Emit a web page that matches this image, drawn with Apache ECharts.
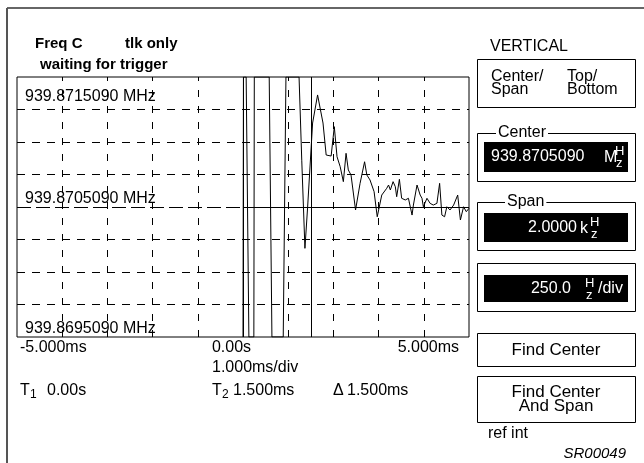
<!DOCTYPE html>
<html>
<head>
<meta charset="utf-8">
<script src="https://cdn.jsdelivr.net/npm/echarts@6/dist/echarts.min.js"></script>
<style>
  html, body { margin: 0; padding: 0; background: #fff; }
  #c { width: 644px; height: 463px; }
</style>
</head>
<body>
<div id="c"></div>
<script>
// Captured trace: time in ms, frequency deviation from the center frequency in Hz
const traceTime = [0.00, 0.01, 0.07, 0.13, 0.24, 0.25, 0.58, 0.64, 0.89, 0.95, 1.24, 1.30, 1.37, 1.43, 1.54, 1.65,
  1.77, 1.84, 1.95, 2.02, 2.08, 2.15, 2.22, 2.28, 2.33, 2.39, 2.43, 2.49, 2.59, 2.69, 2.74, 2.81, 2.90, 2.97,
  3.07, 3.11, 3.18, 3.22, 3.26, 3.32, 3.37, 3.40, 3.46, 3.51, 3.59, 3.66, 3.74, 3.77, 3.85, 3.92, 3.96, 3.99,
  4.07, 4.14, 4.21, 4.29, 4.35, 4.40, 4.46, 4.51, 4.58, 4.66, 4.75, 4.81, 4.88, 4.94, 5.00];
const traceHz = [-1000, 1000, 1000, -1000, -1000, 1000, 1000, -1000, -1000, 1000, 1000, 360, -318, 0, 646, 862,
  646, 400, 392, 618, 387, 310, 195, 413, 285, 246, 259, -23, 182, 348, 246, 208, 118, -75,
  92, 105, 144, 169, 131, 195, 156, 79, 213, 67, 54, 67, -62, 15, 169, 92, 67, 2,
  67, 28, 15, 28, 182, -62, -75, 2, -23, 15, 92, -100, 2, -36, -10];

// Axis scales and tick labels
const timeMin = -5, timeMax = 5, timeDiv = 1;          // 1.000 ms/div
const hzMin = -1000, hzMax = 1000, hzDiv = 250;        // 250.0 Hz/div
const xTickValues = [-5, 0, 5];
const xTickText = ['-5.000ms', '0.00s', '5.000ms'];
const yTickValues = [1000, 0, -1000];
const yTickText = ['939.8715090 MHz', '939.8705090 MHz', '939.8695090 MHz'];
const gridTimes = [-4, -3, -2, -1, 1, 2, 3, 4];
const gridHz = [-750, -500, -250, 250, 500, 750];

// Time cursors (ms)
const cursorT1 = 0;
const cursorT2 = 1.5;

const FONT = '"Liberation Sans", Arial, Helvetica, sans-serif';

const chart = echarts.init(document.getElementById('c'), null, { renderer: 'canvas' });

const tracePoints = traceTime.map((t, i) => [t, traceHz[i]]);
const dashGrid = { color: '#000', width: 1, type: [8, 7] };
const dashVert = { color: '#000', width: 1, type: [7, 9] };

const gridMarks = [];
gridTimes.forEach(t => gridMarks.push({ xAxis: t, lineStyle: dashVert }));
gridHz.forEach(h => gridMarks.push({ yAxis: h, lineStyle: dashGrid }));
// center frequency line: long dashes before the trigger, solid after it
gridMarks.push([{ coord: [timeMin, 0], lineStyle: { color: '#000', width: 1, type: [14, 5] } }, { coord: [cursorT1, 0] }]);
gridMarks.push([{ coord: [cursorT1, 0], lineStyle: { color: '#000', width: 1, type: 'solid' } }, { coord: [timeMax, 0] }]);
// cursors
gridMarks.push({ xAxis: cursorT1, lineStyle: { color: '#000', width: 1, type: 'solid' } });
gridMarks.push({ xAxis: cursorT2, lineStyle: { color: '#000', width: 1, type: 'solid' } });

const xRich = ['l', 'm', 'r'];
function xLabel(v) {
  const i = xTickValues.indexOf(v);
  return i < 0 ? '' : '{' + xRich[i] + '|' + xTickText[i] + '}';
}

function txt(x, y, text, opt) {
  opt = opt || {};
  return {
    type: 'text', x: x, y: y, silent: true, z: 10,
    style: Object.assign({
      text: text,
      fill: '#000',
      font: (opt.weight || 'normal') + ' ' + (opt.size || 16) + 'px ' + FONT,
      align: opt.align || 'left',
      verticalAlign: 'middle'
    }, opt.style || {})
  };
}
function box(x, y, w, h, fill) {
  return {
    type: 'rect', silent: true, z: 5,
    shape: { x: x, y: y, width: w, height: h },
    style: fill ? { fill: fill } : { fill: 'none', stroke: '#000', lineWidth: 1 }
  };
}
function line(x1, y1, x2, y2, color, w) {
  return {
    type: 'line', silent: true, z: 5,
    shape: { x1: x1, y1: y1, x2: x2, y2: y2 },
    style: { stroke: color, lineWidth: w }
  };
}

const graphics = [
  // page frame
  line(7, 8, 644, 8, '#333', 1.5),
  line(7, 8, 7, 463, '#555', 2),
  // status lines
  txt(35, 44, 'Freq C', { weight: 'bold', size: 15 }),
  txt(125, 44, 'tlk only', { weight: 'bold', size: 15 }),
  txt(40, 65, 'waiting for trigger', { weight: 'bold', size: 15 }),
  // horizontal scale and cursor readout
  txt(212, 368, '1.000ms/div'),
  txt(20, 391, 'T'), txt(30, 395, '1', { size: 12 }), txt(47, 391, '0.00s'),
  txt(212, 391, 'T'), txt(222, 395, '2', { size: 12 }), txt(233, 391, '1.500ms'),
  txt(333, 391, '\u0394'), txt(347, 391, '1.500ms'),
  // VERTICAL soft-key panel
  txt(490, 47, 'VERTICAL'),
  box(477.5, 59.5, 158, 48),
  txt(491, 77, 'Center/'), txt(491, 90, 'Span'),
  txt(567, 77, 'Top/'), txt(567, 90, 'Bottom'),

  box(477.5, 133.5, 158, 48),
  txt(496, 133, 'Center', { style: { backgroundColor: '#fff', padding: [0, 2] } }),
  box(484, 142, 144, 30, '#000'),
  txt(491, 157, '939.8705090', { style: { fill: '#fff' } }),
  txt(604, 158, 'M', { style: { fill: '#fff' } }),
  txt(615, 151, 'H', { size: 13, style: { fill: '#fff' } }),
  txt(616, 163, 'z', { size: 13, style: { fill: '#fff' } }),

  box(477.5, 202.5, 158, 48),
  txt(505, 202, 'Span', { style: { backgroundColor: '#fff', padding: [0, 2] } }),
  box(484, 213, 144, 29, '#000'),
  txt(577, 228, '2.0000', { align: 'right', style: { fill: '#fff' } }),
  txt(580, 229, 'k', { style: { fill: '#fff' } }),
  txt(590, 222, 'H', { size: 13, style: { fill: '#fff' } }),
  txt(591, 234, 'z', { size: 13, style: { fill: '#fff' } }),

  box(477.5, 263.5, 158, 48),
  box(484, 275, 144, 27, '#000'),
  txt(571, 289, '250.0', { align: 'right', style: { fill: '#fff' } }),
  txt(585, 283, 'H', { size: 13, style: { fill: '#fff' } }),
  txt(586, 295, 'z', { size: 13, style: { fill: '#fff' } }),
  txt(598, 289, '/div', { style: { fill: '#fff' } }),

  box(477.5, 333.5, 158, 33),
  txt(556, 350, 'Find Center', { size: 17, align: 'center' }),
  box(477.5, 376.5, 158, 46),
  txt(556, 392, 'Find Center', { size: 17, align: 'center' }),
  txt(556, 406.5, 'And Span', { size: 17, align: 'center' }),

  txt(488, 434, 'ref int'),
  txt(626, 454, 'SR00049', { align: 'right', style: { font: 'italic 15px ' + FONT } })
];

const option = {
  backgroundColor: '#fff',
  animation: false,
  textStyle: { fontFamily: FONT },
  grid: {
    left: 17, top: 77, width: 452, height: 260,
    show: true, borderColor: '#000', borderWidth: 1, backgroundColor: 'transparent',
    containLabel: false
  },
  xAxis: {
    type: 'value', min: timeMin, max: timeMax, interval: timeDiv,
    axisLine: { show: false }, axisTick: { show: false }, splitLine: { show: false },
    axisLabel: {
      show: true, margin: 3, color: '#000', fontSize: 16, fontFamily: FONT,
      showMinLabel: true, showMaxLabel: true,
      alignMinLabel: 'left', alignMaxLabel: 'right',
      formatter: xLabel,
      rich: {
        l: { fontSize: 16, fontFamily: FONT, color: '#000', padding: [0, 0, 0, 3] },
        m: { fontSize: 16, fontFamily: FONT, color: '#000', padding: [0, 23, 0, 0] },
        r: { fontSize: 16, fontFamily: FONT, color: '#000', padding: [0, 10, 0, 0] }
      }
    }
  },
  yAxis: [
    {
      type: 'value', min: hzMin, max: hzMax, interval: hzDiv, position: 'left',
      axisLine: { show: false }, axisTick: { show: false }, splitLine: { show: false },
      axisLabel: {
        inside: true, margin: 8, color: '#000', fontSize: 16, fontFamily: FONT,
        verticalAlign: 'bottom', showMinLabel: true, showMaxLabel: true,
        formatter: v => (v === yTickValues[1] || v === yTickValues[2]) ? yTickText[yTickValues.indexOf(v)] : ''
      }
    },
    {
      type: 'value', min: hzMin, max: hzMax, interval: hzDiv, position: 'left', offset: 0,
      axisLine: { show: false }, axisTick: { show: false }, splitLine: { show: false },
      axisLabel: {
        inside: true, margin: 8, color: '#000', fontSize: 16, fontFamily: FONT,
        verticalAlign: 'top', padding: [12, 0, 0, 0], showMinLabel: true, showMaxLabel: true,
        formatter: v => v === yTickValues[0] ? yTickText[0] : ''
      }
    }
  ],
  series: [
    {
      name: 'graticule', type: 'line', data: [], z: 1, silent: true,
      markLine: {
        silent: true, symbol: 'none', animation: false,
        label: { show: false },
        data: gridMarks
      }
    },
    {
      name: 'trace', type: 'line', data: tracePoints, z: 3, clip: true,
      showSymbol: false, symbol: 'none', silent: true,
      lineStyle: { color: '#000', width: 1 }
    }
  ],
  graphic: { elements: graphics }
};

chart.setOption(option);
</script>
</body>
</html>
